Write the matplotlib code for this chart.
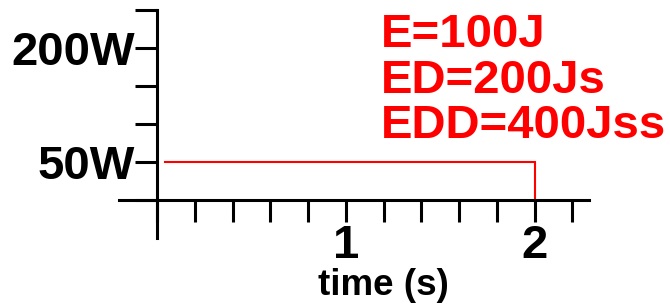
import matplotlib
matplotlib.use("Agg")
import matplotlib.pyplot as plt
import numpy as np

plt.rcParams['font.family'] = ['Liberation Sans', 'DejaVu Sans']
plt.rcParams['font.weight'] = 'bold'

# data
time = [0.04, 2.0, 2.0]
power = [50, 50, 0]
xtick_pos = [0, 0.2, 0.4, 0.6, 0.8, 1.0, 1.2, 1.4, 1.6, 1.8, 2.0, 2.2]
xtick_labels = ['', '', '', '', '', '1', '', '', '', '', '2', '']
ytick_pos = [0, 50, 100, 150, 200, 250]
ytick_labels = ['', '50W', '', '', '200W', '']
notes = ['E=100J', 'ED=200Js', 'EDD=400Jss']
note_y = [201, 141, 82]
xlabel = 'time (s)'

fig = plt.figure(figsize=(6.7, 3.08), dpi=100)
ax = fig.add_axes([0.1782, 0.2273, 0.7015, 0.7403])
ax.set_xlim(-0.2, 2.29)
ax.set_ylim(-50, 250)

ax.plot(time, power, color='#ff0000', lw=1.5, solid_joinstyle='miter')

for s in ['top', 'right']:
    ax.spines[s].set_visible(False)
ax.spines['left'].set_position(('data', 0))
ax.spines['bottom'].set_position(('data', 0))
for s in ['left', 'bottom']:
    ax.spines[s].set_linewidth(2.2)

ax.set_xticks(xtick_pos)
ax.set_xticklabels(xtick_labels, fontsize=34, fontweight='bold')
ax.set_yticks(ytick_pos)
ax.set_yticklabels(ytick_labels, fontsize=34, fontweight='bold')
ax.tick_params(axis='both', direction='out', length=16, width=2.2)
ax.tick_params(axis='x', pad=1)
ax.tick_params(axis='y', pad=0)

ax.text(1.2, -125, xlabel, ha='center', va='baseline', fontsize=26.5,
        fontweight='bold')

for txt, yy in zip(notes, note_y):
    ax.text(1.186, yy, txt, ha='left', va='baseline', fontsize=34,
            fontweight='bold', color='#ff0000')

fig.savefig('out.png', dpi=100)
